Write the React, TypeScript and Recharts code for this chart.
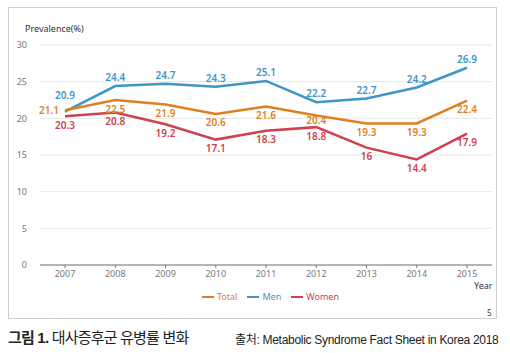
import { LineChart, Line, XAxis, YAxis, CartesianGrid, LabelList } from 'recharts';

const years = ['2007', '2008', '2009', '2010', '2011', '2012', '2013', '2014', '2015'];
const total = [21.1, 22.5, 21.9, 20.6, 21.6, 20.4, 19.3, 19.3, 22.4];
const men = [20.9, 24.4, 24.7, 24.3, 25.1, 22.2, 22.7, 24.2, 26.9];
const women = [20.3, 20.8, 19.2, 17.1, 18.3, 18.8, 16, 14.4, 17.9];
const yTicks = [0, 5, 10, 15, 20, 25, 30];

const C_TOTAL = '#df801e';
const C_MEN = '#3f95c6';
const C_WOMEN = '#cf414c';

const data = years.map((y, i) => ({ year: y, total: total[i], men: men[i], women: women[i] }));

const FONT = '"Noto Sans", "Open Sans", sans-serif';
const CAP_FONT = '"Liberation Sans", Arial, "Noto Sans CJK KR", sans-serif';

// small per-point nudges so labels sit clear of the other lines
function makeLabel(color: string, where: 'top' | 'bottom', firstLeft = false) {
  return (p: any) => {
    const { x, y, value, index } = p;
    let tx = x;
    let ty = where === 'top' ? y - 5 : y + 12.5;
    let anchor: 'middle' | 'end' = 'middle';
    if (where === 'top' && index === 0) ty = y - 13;
    if (where === 'bottom' && color === C_TOTAL && index === 5) ty = y + 9;
    if (firstLeft && index === 0) {
      tx = x - 6;
      ty = y + 4;
      anchor = 'end';
    }
    return (
      <text x={tx} y={ty} fill={color} fontSize={10} fontWeight={600} textAnchor={anchor} fontFamily={FONT}>
        {value}
      </text>
    );
  };
}

function LegendItem({ color, text }: { color: string; text: string }) {
  return (
    <span style={{ display: 'inline-flex', alignItems: 'center', marginRight: 10 }}>
      <span style={{ display: 'inline-block', width: 12, height: 2, background: color, marginRight: 3 }} />
      <span style={{ color }}>{text}</span>
    </span>
  );
}

export default function App() {
  return (
    <div style={{ position: 'absolute', left: 0, top: 0, width: 510, height: 353, background: '#fff', fontFamily: FONT }}>
      <div style={{ position: 'absolute', left: 8, top: 7, width: 489, height: 312, border: '1px solid #cfcfcf', boxSizing: 'border-box' }} />
      <div style={{ position: 'absolute', left: 25, top: 22, fontSize: 9, color: '#333' }}>Prevalence(%)</div>
      <div style={{ position: 'absolute', left: 0, top: 0 }}>
        <LineChart width={510} height={290} data={data} margin={{ top: 45, right: 18, bottom: 0, left: 10 }}>
          <CartesianGrid vertical={false} stroke="#e6e6e6" />
          <XAxis
            dataKey="year"
            padding={{ left: 25, right: 25 }}
            axisLine={{ stroke: '#777' }}
            tickLine={{ stroke: '#777' }}
            tickSize={3}
            tickMargin={3}
            height={25}
            tick={{ fontSize: 9, fill: '#777', fontFamily: FONT }}
            interval={0}
          />
          <YAxis
            domain={[0, 30]}
            ticks={yTicks}
            width={30}
            axisLine={false}
            tickLine={false}
            tickMargin={7}
            tick={{ fontSize: 9, fill: '#777', fontFamily: FONT }}
          />
          <Line dataKey="men" stroke={C_MEN} strokeWidth={2.5} dot={false} isAnimationActive={false}>
            <LabelList dataKey="men" content={makeLabel(C_MEN, 'top')} />
          </Line>
          <Line dataKey="total" stroke={C_TOTAL} strokeWidth={2.5} dot={false} isAnimationActive={false}>
            <LabelList dataKey="total" content={makeLabel(C_TOTAL, 'bottom', true)} />
          </Line>
          <Line dataKey="women" stroke={C_WOMEN} strokeWidth={2.5} dot={false} isAnimationActive={false}>
            <LabelList dataKey="women" content={makeLabel(C_WOMEN, 'bottom')} />
          </Line>
        </LineChart>
      </div>
      <div style={{ position: 'absolute', left: 474, top: 279, fontSize: 9, color: '#333' }}>Year</div>
      <div style={{ position: 'absolute', left: 202, top: 290, fontSize: 9, display: 'flex', whiteSpace: 'nowrap' }}>
        <LegendItem color={C_TOTAL} text="Total" />
        <LegendItem color={C_MEN} text="Men" />
        <LegendItem color={C_WOMEN} text="Women" />
      </div>
      <div style={{ position: 'absolute', left: 487, top: 307, fontSize: 8, color: '#333' }}>5</div>
      <div style={{ position: 'absolute', left: 8, top: 326, fontSize: 15, letterSpacing: -0.8, color: '#222', whiteSpace: 'nowrap', fontFamily: CAP_FONT }}>
        <span style={{ fontWeight: 700 }}>그림 1.</span> 대사증후군 유병률 변화
      </div>
      <div style={{ position: 'absolute', left: 235, top: 330, fontSize: 12, letterSpacing: -0.3, color: '#222', whiteSpace: 'nowrap', fontFamily: CAP_FONT }}>
        출처: Metabolic Syndrome Fact Sheet in Korea 2018
      </div>
    </div>
  );
}
